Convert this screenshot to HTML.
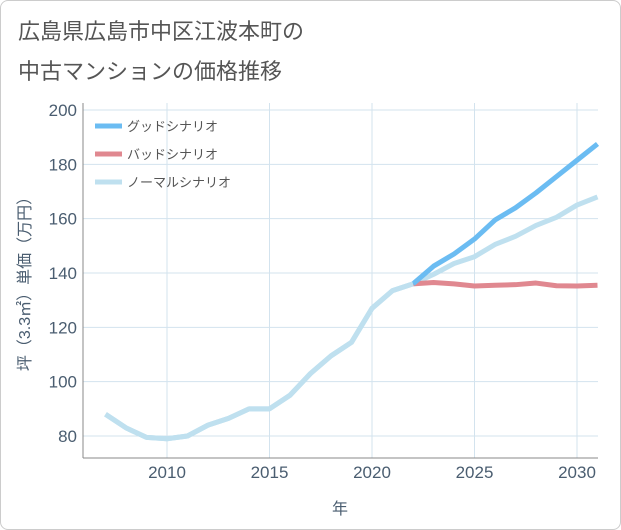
<!DOCTYPE html>
<html><head><meta charset="utf-8"><style>
body{margin:0;background:#fff;}
#wrap{position:relative;width:621px;height:530px;overflow:hidden;font-family:"Liberation Sans","Noto Sans CJK JP",sans-serif;}
#frame{position:absolute;left:0;top:0;width:619px;height:528px;border:1px solid #ccc;border-radius:8px;}
.t{position:absolute;left:18px;font-size:22px;color:#555;}
</style></head><body>
<div id="wrap">
<div id="frame"></div>
<div class="t" style="top:14px">広島県広島市中区江波本町の</div>
<div class="t" style="top:54px">中古マンションの価格推移</div>
<svg id="chart" width="621" height="530" style="position:absolute;left:0;top:0"></svg>
</div>
<script>
const years=[2007,2008,2009,2010,2011,2012,2013,2014,2015,2016,2017,2018,2019,2020,2021,2022,2023,2024,2025,2026,2027,2028,2029,2030,2031];
const normal=[88,83,79.5,79,80,84,86.5,90,90,95,103,109.5,114.5,127,133.5,136,139.5,143.5,146,150.5,153.5,157.5,160.5,165,168];
const goodYears=[2022,2023,2024,2025,2026,2027,2028,2029,2030,2031];
const good=[136,142.5,147,152.5,159.5,164,169.5,175.5,181.5,187.5];
const bad=[136,136.5,136,135.2,135.5,135.7,136.3,135.3,135.2,135.5];
const xTicks=[2010,2015,2020,2025,2030];
const yTicks=[80,100,120,140,160,180,200];
const X0=83,X1=598,Y0=103,Y1=458;
const xs=y=>167+(y-2010)*(577-167)/20;
const ys=v=>436-(v-80)*(436-110)/120;
const svg=document.getElementById('chart');
const NS='http://www.w3.org/2000/svg';
function mk(tag,at,name){const e=document.createElementNS(NS,tag);for(const k in at)e.setAttribute(k,at[k]);


svg.appendChild(e);return e;}
mk('rect',{x:X0,y:Y0,width:X1-X0,height:Y1-Y0,fill:'#fff',stroke:'none'},'plot-area');
for(let y=2007;y<=2031;y++){if(y%5==0)continue;}
xTicks.forEach(t=>{mk('line',{x1:xs(t),x2:xs(t),y1:Y0,y2:Y1,stroke:'#d3e3ee','stroke-width':1},'x-gridline');
const tx=mk('text',{x:xs(t),y:478,'text-anchor':'middle','font-size':17,fill:'#4a5d70'},'x-tick-label');tx.textContent=t;});
yTicks.forEach(t=>{mk('line',{x1:X0,x2:X1,y1:ys(t),y2:ys(t),stroke:'#d3e3ee','stroke-width':1},'y-gridline');
const tx=mk('text',{x:77,y:ys(t)+6,'text-anchor':'end','font-size':17,fill:'#4a5d70'},'y-tick-label');tx.textContent=t;});
mk('line',{x1:X0,x2:X0,y1:Y0,y2:Y1,stroke:'#888'},'y-axis-line');
mk('line',{x1:X0,x2:X1,y1:Y1,y2:Y1,stroke:'#888'},'x-axis-line');
function line(xv,yv,col,name){mk('polyline',{points:xv.map((x,i)=>xs(x)+','+ys(yv[i])).join(' '),fill:'none',stroke:col,'stroke-width':5,'stroke-linejoin':'round'},name);}
line(years,normal,'#bfe0ef','normal-scenario-line');
line(goodYears,bad,'#e08890','bad-scenario-line');
line(goodYears,good,'#6bbcf2','good-scenario-line');
line(years.slice(0,16),normal.slice(0,16),'#bfe0ef','historical-line');
// legend
const leg=[['グッドシナリオ','#6bbcf2'],['バッドシナリオ','#e08890'],['ノーマルシナリオ','#bfe0ef']];
leg.forEach((l,i)=>{const y=126+i*28;
mk('line',{x1:95,x2:122,y1:y,y2:y,stroke:l[1],'stroke-width':5},'legend-swatch');
const t=mk('text',{x:127,y:y+5,'font-size':13,fill:'#555'},'legend-entry');t.textContent=l[0];});
const xt=mk('text',{x:340,y:514,'text-anchor':'middle','font-size':16,fill:'#4a5d70'},'x-axis-title');xt.textContent='年';
const yt=mk('text',{x:0,y:0,'text-anchor':'middle','font-size':16,fill:'#4a5d70',transform:'translate(30,280) rotate(-90)'},'y-axis-title');yt.textContent='坪（3.3㎡）単価（万円）';
</script>
</body></html>
